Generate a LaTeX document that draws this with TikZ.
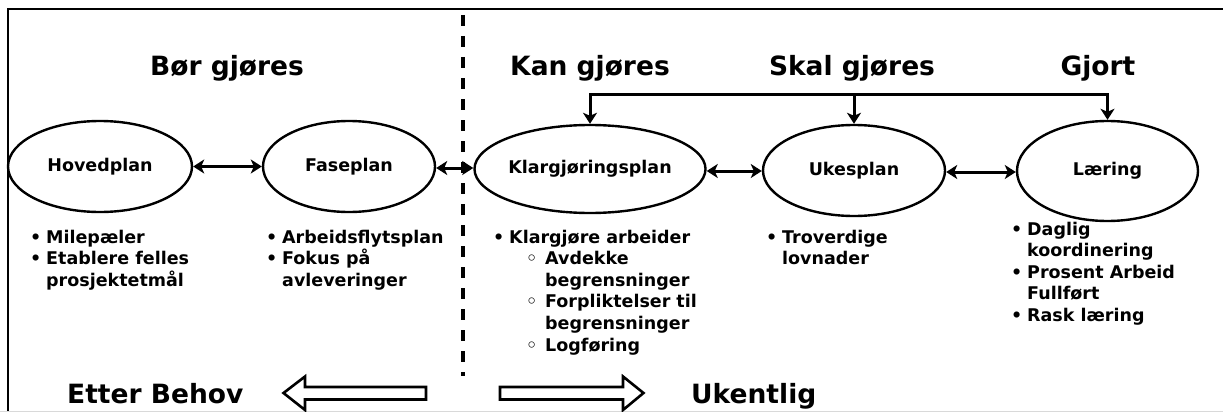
\documentclass[tikz,border=0pt]{standalone}
\usepackage{fontspec}
\setmainfont{DejaVu Sans}
\usetikzlibrary{arrows.meta,shapes.geometric}

% bullet helpers for the item lists under each plan
\newlength{\lsbw}\setlength{\lsbw}{16pt}
\newlength{\lssub}\setlength{\lssub}{36pt}
\newcommand{\lsitem}[1]{\hbox{\makebox[\lsbw][l]{•}#1}}
\newcommand{\lscont}[1]{\hbox{\hspace*{\lsbw}#1}}
\newcommand{\lssubitem}[1]{\hbox{\hspace*{\lsbw}\makebox[\lssub][l]{\hspace*{17pt}◦}#1}}
\newcommand{\lssubcont}[1]{\hbox{\hspace*{\lsbw}\hspace*{\lssub}#1}}
% a stack of lines whose baseline is that of its first line
\newcommand{\lsstack}[1]{\vtop{\baselineskip=21.6pt\lineskiplimit=-20pt #1}}

\begin{document}
\begin{tikzpicture}[x=1pt,y=-1pt,
  plan/.style={draw, line width=2.4pt, ellipse, inner sep=0pt,
    font=\fontsize{17.5}{21}\selectfont\bfseries},
  heading/.style={font=\fontsize{26.5}{30}\selectfont\bfseries, inner sep=0pt},
  listtext/.style={font=\fontsize{17.5}{21.6}\selectfont\bfseries,
    inner sep=0pt, anchor=base west},
  link/.style={line width=3pt, {Stealth[length=11pt,width=14pt,inset=3pt]}-{Stealth[length=11pt,width=14pt,inset=3pt]}},
  feed/.style={line width=3pt, -{Stealth[length=11pt,width=14pt,inset=3pt]}},
  bigarrow/.style={draw, line width=2.6pt, fill=white, line join=miter}
]
\useasboundingbox (0,0) rectangle (1223,412);

% frame
\draw[line width=2.6pt] (8,412) -- (8,9) -- (1223,9);
\draw[line width=1.2pt, black!15] (0,411.3) -- (1223,411.3);

% dashed divider
\draw[line width=4pt, dash pattern=on 11pt off 10pt] (463,15) -- (463,376);

% headings
\node[heading, anchor=base] (h1) at (227,76) {Bør gjøres};
\node[heading, anchor=base] (h2) at (590,76) {Kan gjøres};
\node[heading, anchor=base] (h3) at (852,76) {Skal gjøres};
\node[heading, anchor=base] (h4) at (1098,76) {Gjort};

% plans
\node[plan, minimum width=184pt, minimum height=91pt] (hp) at (100,166.5) {Hovedplan};
\node[plan, minimum width=172pt, minimum height=91pt] (fp) at (349,166.5) {Faseplan};
\node[plan, minimum width=184pt, minimum height=88pt] (kp) at (590,169) {Klargjøringsplan};
\node[plan, minimum width=182pt, minimum height=91pt] (up) at (854,170.5) {Ukesplan};
\node[plan, minimum width=181pt, minimum height=100pt] (lp) at (1107.5,171) {Læring};

% links between plans
\draw[link] (hp.east) -- (fp.west);
\draw[link] (fp.east |- 0,168) -- (kp.west |- 0,168);
\draw[link] (kp.east |- 0,171) -- (up.west |- 0,171);
\draw[link] (up.east |- 0,172) -- (lp.west |- 0,172);

% feedback bracket
\coordinate (fa) at (590,94);
\coordinate (fb) at (854,94);
\coordinate (fc) at (1107.5,94);
\draw[line width=3pt, line cap=rect] (fa) -- (fc);
\draw[feed] (fa) -- (kp.north);
\draw[feed] (fb) -- (up.north);
\draw[feed] (fc) -- (lp.north);

% item lists
\node[listtext] (l1) at (30,243) {\lsstack{\lsitem{Milepæler}\lsitem{Etablere felles}\lscont{prosjektetmål}}};
\node[listtext] (l2) at (266,243) {\lsstack{\lsitem{Arbeidsflytsplan}\lsitem{Fokus på}\lscont{avleveringer}}};
\node[listtext] (l3) at (493,243) {\lsstack{\lsitem{Klargjøre arbeider}\lssubitem{Avdekke}\lssubcont{begrensninger}\lssubitem{Forpliktelser til}\lssubcont{begrensninger}\lssubitem{Logføring}}};
\node[listtext] (l4) at (766,243) {\lsstack{\lsitem{Troverdige}\lscont{lovnader}}};
\node[listtext] (l5) at (1011,235) {\lsstack{\lsitem{Daglig}\lscont{koordinering}\lsitem{Prosent Arbeid}\lscont{Fullført}\lsitem{Rask læring}}};

% cadence
\node[heading, anchor=base west] (eb) at (67,403) {Etter Behov};
\node[heading, anchor=base west] (uk) at (691,403) {Ukentlig};
\draw[bigarrow] (283.5,393) -- (305,376.5) -- (305,387) -- (426,387) -- (426,399.5) -- (305,399.5) -- (305,410) -- cycle;
\draw[bigarrow] (643.5,393) -- (623,376.5) -- (623,387) -- (500,387) -- (500,399.5) -- (623,399.5) -- (623,410) -- cycle;
\end{tikzpicture}
\end{document}
